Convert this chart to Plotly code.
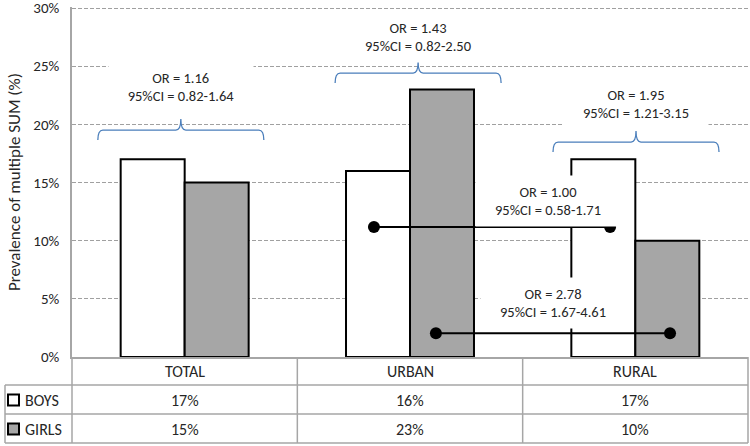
import plotly.graph_objects as go

# ---------------- data ----------------
categories = ["TOTAL", "URBAN", "RURAL"]
series_names = ["BOYS", "GIRLS"]
boys = [17, 16, 17]
girls = [15, 23, 10]
y_ticks = [0, 5, 10, 15, 20, 25, 30]
y_tick_labels = ["0%", "5%", "10%", "15%", "20%", "25%", "30%"]
group_or_labels = ["OR = 1.16<br>95%CI = 0.82-1.64",
                   "OR = 1.43<br>95%CI = 0.82-2.50",
                   "OR = 1.95<br>95%CI = 1.21-3.15"]
compare_labels = ["OR = 1.00<br>95%CI = 0.58-1.71",
                  "OR = 2.78<br>95%CI = 1.67-4.61"]

# ---------------- layout constants ----------------
FONT = "Carlito, Lato, Liberation Sans, sans-serif"
W, H = 750, 446
ML, MR, MT, MB = 72, 2, 7, 89
XR = (-0.5, 2.5)
YR = (0, 30.09)
PW, PH = W - ML - MR, H - MT - MB
DX = (XR[1] - XR[0]) / PW      # data x per pixel
DY = (YR[1] - YR[0]) / PH      # data y per pixel
BARGAP = 0.432
HALF = (1 - BARGAP) / 4        # offset of bar centres from category centre
GRAY_FILL = "#a6a6a6"
LINE_GRAY = "#a6a6a6"
BRACE = "#4a7ebb"
TXT = "#262626"

xs = list(range(len(categories)))


def px_paper_y(py):
    return (H - MB - py) / PH


def px_paper_x(px):
    return (px - ML) / PW


def data_to_paper_x(x):
    return (x - XR[0]) / (XR[1] - XR[0])


fig = go.Figure()
fig.add_trace(go.Bar(x=xs, y=boys, name=series_names[0],
                     marker=dict(color="white", line=dict(color="black", width=2))))
fig.add_trace(go.Bar(x=xs, y=girls, name=series_names[1],
                     marker=dict(color=GRAY_FILL, line=dict(color="black", width=2))))

# ---------------- braces and OR texts per group ----------------
brace_center_nudge = [-0.017, 0.036, 0.003]
brace_bottom = [18.65, 23.55, 17.62]
brace_half = 83 * DX
text_rise = [32, 25, 27]  # pixels above the brace tip

shapes = []
annotations = []
for i, c in enumerate(categories):
    xc = xs[i] + brace_center_nudge[i]
    yb = brace_bottom[i]
    hook = 10 * DY
    tip = 11 * DY
    r = 5 * DX
    x0, x1 = xc - brace_half, xc + brace_half
    ym = yb + hook
    yt = ym + tip
    path = (f"M {x0},{yb} Q {x0},{ym} {x0 + r},{ym} L {xc - r},{ym} "
            f"Q {xc},{ym} {xc},{yt} Q {xc},{ym} {xc + r},{ym} "
            f"L {x1 - r},{ym} Q {x1},{ym} {x1},{yb}")
    shapes.append(dict(type="path", path=path, xref="x", yref="y",
                       line=dict(color=BRACE, width=1.3), layer="above"))
    annotations.append(dict(x=xc, y=yt + text_rise[i] * DY, xref="x", yref="y",
                            xanchor="center", yanchor="middle",
                            text=group_or_labels[i], showarrow=False,
                            width=142, height=48, bgcolor="white",
                            font=dict(family=FONT, size=14.5, color=TXT)))

# ---------------- comparison lines (urban vs rural) ----------------
compare_level = [11.18, 2.05]
compare_nudge = [(-0.018, 0.03), (-0.027, 0.012)]
compare_text_center = [(1.612, 13.45), (1.635, 4.6)]
series_offsets = [-HALF, HALF]
for k in range(2):
    xa = xs[1] + series_offsets[k] + compare_nudge[k][0]
    xb = xs[2] + series_offsets[k] + compare_nudge[k][1]
    fig.add_trace(go.Scatter(x=[xa, xb], y=[compare_level[k]] * 2,
                             mode="lines+markers", showlegend=False,
                             line=dict(color="black", width=2),
                             marker=dict(color="black", size=12),
                             hoverinfo="skip"))
    annotations.append(dict(x=compare_text_center[k][0], y=compare_text_center[k][1],
                            xref="x", yref="y", xanchor="center", yanchor="middle",
                            text=compare_labels[k],
                            showarrow=False, width=142, height=48, bgcolor="white",
                            font=dict(family=FONT, size=14.5, color=TXT)))

# ---------------- data table below the plot ----------------
row_y = [px_paper_y(371.5), px_paper_y(400), px_paper_y(429)]
line_y = [px_paper_y(385), px_paper_y(414), px_paper_y(443)]
left_x = px_paper_x(5)
tfont = dict(family=FONT, size=16, color=TXT)

for i, c in enumerate(categories):
    for r, txt in enumerate([c, f"{boys[i]}%", f"{girls[i]}%"]):
        annotations.append(dict(x=xs[i], y=row_y[r], xref="x", yref="paper",
                                xanchor="center", yanchor="middle", text=txt,
                                showarrow=False, font=tfont))

sq_fill = ["white", GRAY_FILL]
for k, name in enumerate(series_names):
    cy = row_y[k + 1]
    annotations.append(dict(x=px_paper_x(23), y=cy, xref="paper", yref="paper",
                            text=name, showarrow=False, xanchor="left",
                            yanchor="middle", font=tfont))
    shapes.append(dict(type="rect", xref="paper", yref="paper",
                       x0=px_paper_x(8), x1=px_paper_x(19),
                       y0=cy - 5.5 / PH, y1=cy + 5.5 / PH,
                       fillcolor=sq_fill[k], line=dict(color="black", width=2)))

lw = 1.5
for yy in line_y:
    shapes.append(dict(type="line", xref="paper", yref="paper", x0=left_x, x1=1,
                       y0=yy, y1=yy, line=dict(color=LINE_GRAY, width=lw)))
for b in [0.5, 1.5, 2.5]:
    px = data_to_paper_x(b)
    shapes.append(dict(type="line", xref="paper", yref="paper", x0=px, x1=px,
                       y0=0, y1=line_y[-1], line=dict(color=LINE_GRAY, width=lw)))
shapes.append(dict(type="line", xref="paper", yref="paper", x0=0, x1=0,
                   y0=0, y1=line_y[-1], line=dict(color=LINE_GRAY, width=lw)))
shapes.append(dict(type="line", xref="paper", yref="paper", x0=left_x, x1=left_x,
                   y0=line_y[0], y1=line_y[-1], line=dict(color=LINE_GRAY, width=lw)))

# y-axis title
annotations.append(dict(x=px_paper_x(14), y=px_paper_y(182), xref="paper", yref="paper",
                        xanchor="center", yanchor="middle",
                        text="Prevalence of multiple SUM (%)", textangle=-90,
                        showarrow=False, font=dict(family=FONT, size=17, color=TXT)))

fig.update_layout(
    width=W, height=H,
    margin=dict(l=ML, r=MR, t=MT, b=MB, pad=0, autoexpand=False),
    paper_bgcolor="white", plot_bgcolor="white",
    barmode="group", bargap=BARGAP, bargroupgap=0,
    showlegend=False,
    shapes=shapes, annotations=annotations,
    font=dict(family=FONT, color=TXT),
    xaxis=dict(range=list(XR), showticklabels=False, showgrid=False, zeroline=False,
               showline=True, linecolor=LINE_GRAY, linewidth=2, ticks="",
               automargin=False, fixedrange=True),
    yaxis=dict(range=list(YR), tickmode="array", tickvals=y_ticks, ticktext=y_tick_labels,
               showgrid=True, gridcolor="#a0a0a0", gridwidth=1, griddash="4px,2px",
               zeroline=False, showline=True, linecolor=LINE_GRAY, linewidth=1.5,
               ticks="", ticklabelstandoff=8, automargin=False, ticklabeloverflow="allow",
               tickfont=dict(family=FONT, size=15, color=TXT), fixedrange=True),
)

fig.write_html("out.html", config={"displayModeBar": False},
               post_script="document.body.style.margin='0px';")
